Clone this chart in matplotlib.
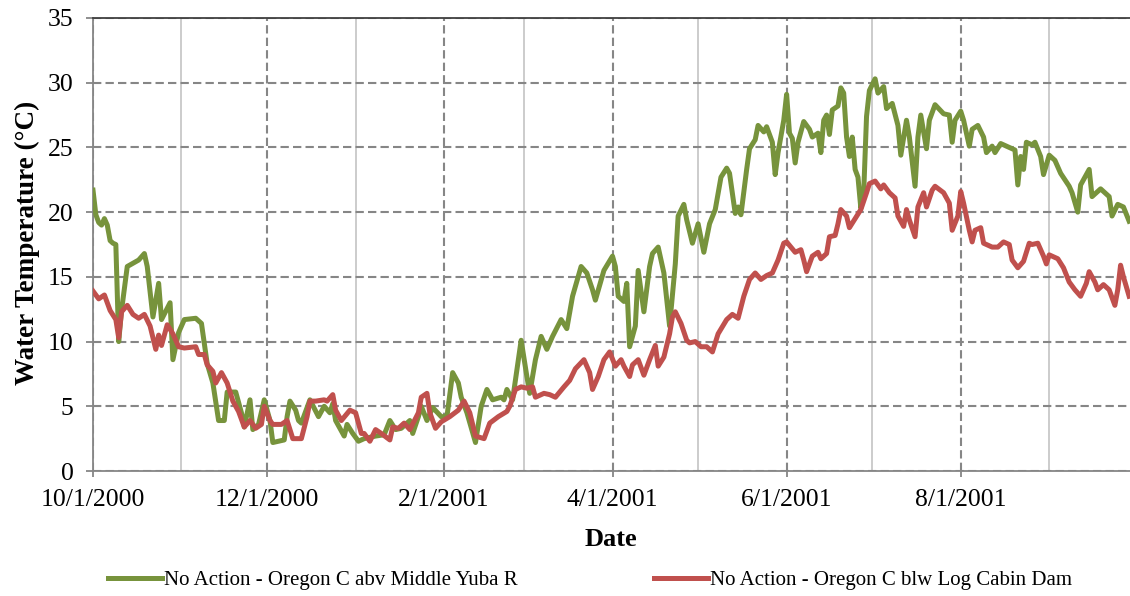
import numpy as np
import matplotlib
matplotlib.use("Agg")
import matplotlib.pyplot as plt
import matplotlib.dates as mdates
from matplotlib.ticker import FuncFormatter

plt.rcParams['font.family'] = ['Liberation Serif', 'DejaVu Serif']

# Days since 10/1/2000 and daily water temperature (deg C).
start = np.datetime64('2000-10-01')

abv_days = [0, 1, 2, 3, 4, 5, 6, 7, 8, 9, 10, 12, 16, 18, 19, 21, 23, 24, 27, 28,
            30, 32, 36, 38, 40, 42, 44, 46, 47, 50, 52, 53, 55, 56, 58, 60, 62, 63, 67, 68,
            69, 71, 72, 73, 76, 79, 81, 83, 84, 85, 88, 89, 91, 93, 95, 99, 102, 104, 106, 108,
            111, 112, 114, 115, 117, 119, 122, 124, 126, 128, 129, 131, 134, 136, 138, 140, 143, 144, 145, 147,
            150, 152, 153, 155, 157, 159, 161, 164, 166, 168, 171, 173, 175, 176, 179, 182, 183, 184, 186, 187,
            188, 190, 191, 193, 195, 196, 198, 200, 202, 204, 205, 207, 208, 210, 212, 214, 216, 218, 220, 222,
            223, 225, 226, 227, 229, 230, 232, 233, 235, 236, 238, 239, 240, 242, 243, 244, 245, 246, 247, 249,
            251, 252, 254, 255, 256, 257, 258, 259, 261, 262, 263, 264, 265, 266, 267, 268, 269, 270, 271, 272,
            274, 275, 277, 278, 280, 282, 283, 285, 286, 288, 289, 290, 292, 293, 295, 298, 300, 301, 302, 304,
            305, 307, 308, 310, 312, 313, 315, 316, 318, 320, 323, 324, 325, 326, 327, 329, 330, 332, 333, 335,
            337, 339, 342, 343, 345, 346, 349, 350, 353, 356, 357, 359, 361, 363]
abv_temp = [21.7, 19.8, 19.2, 19.0, 19.5, 19.0, 17.8, 17.6, 17.5, 10.0, 12.4, 15.8, 16.3, 16.8, 15.8, 11.9, 14.5, 11.7, 13.0, 8.6,
            10.7, 11.7, 11.8, 11.4, 8.3, 6.8, 3.9, 3.9, 6.1, 6.1, 4.5, 3.4, 5.5, 3.2, 3.6, 5.5, 3.9, 2.2, 2.4, 4.2,
            5.4, 4.7, 3.9, 3.7, 5.5, 4.2, 5.0, 4.5, 5.2, 3.9, 2.7, 3.6, 2.9, 2.3, 2.5, 2.7, 2.8, 3.9, 3.2, 3.3,
            3.9, 2.9, 4.2, 5.0, 3.9, 4.9, 4.2, 4.2, 7.6, 6.8, 5.7, 4.5, 2.2, 5.0, 6.3, 5.5, 5.7, 5.5, 6.3, 5.5,
            10.1, 7.3, 6.0, 8.6, 10.4, 9.4, 10.4, 11.7, 11.0, 13.5, 15.8, 15.3, 14.0, 13.2, 15.5, 16.6, 15.8, 13.5, 13.1, 14.5,
            9.6, 11.2, 15.5, 12.3, 15.8, 16.8, 17.3, 15.3, 11.2, 16.0, 19.7, 20.6, 19.4, 17.6, 19.1, 16.9, 19.1, 20.2, 22.7, 23.4,
            23.0, 19.9, 20.4, 19.8, 23.3, 24.9, 25.6, 26.7, 26.2, 26.6, 25.4, 22.9, 24.6, 27.1, 29.1, 26.1, 25.7, 23.8, 25.4, 27.0,
            26.4, 25.8, 26.1, 24.6, 27.1, 27.5, 26.0, 27.9, 28.2, 29.6, 29.2, 25.8, 24.3, 25.8, 23.3, 22.7, 20.3, 21.5, 27.4, 29.4,
            30.3, 29.2, 29.7, 28.0, 28.4, 26.7, 24.4, 27.1, 25.8, 22.0, 25.8, 27.5, 24.9, 27.1, 28.3, 27.6, 27.5, 25.4, 27.1, 27.8,
            27.1, 25.1, 26.4, 26.7, 25.8, 24.6, 25.1, 24.6, 25.3, 25.1, 24.8, 22.1, 24.3, 23.3, 25.4, 25.2, 25.4, 24.3, 22.9, 24.4,
            24.0, 23.0, 22.0, 21.5, 20.0, 22.1, 23.3, 21.2, 21.8, 21.2, 19.7, 20.6, 20.4, 19.3]

blw_days = [0, 2, 4, 6, 8, 9, 10, 12, 14, 16, 18, 20, 22, 23, 24, 26, 28, 30, 32, 36,
            37, 39, 40, 42, 43, 45, 47, 49, 51, 53, 55, 57, 59, 60, 62, 63, 66, 68, 70, 73,
            75, 76, 78, 81, 82, 84, 85, 87, 90, 92, 94, 95, 97, 99, 101, 104, 105, 107, 109, 111,
            114, 115, 117, 118, 120, 122, 125, 128, 130, 132, 134, 137, 139, 142, 145, 146, 148, 150, 152, 154,
            155, 158, 160, 162, 165, 167, 169, 172, 174, 175, 177, 179, 181, 183, 185, 186, 188, 189, 191, 193,
            195, 197, 198, 200, 202, 203, 204, 206, 208, 209, 211, 213, 215, 217, 219, 222, 224, 226, 228, 230,
            232, 234, 236, 238, 240, 242, 243, 246, 248, 249, 250, 252, 254, 255, 257, 258, 260, 261, 262, 264,
            265, 267, 269, 271, 272, 274, 276, 277, 279, 281, 282, 284, 285, 286, 288, 289, 291, 292, 294, 295,
            298, 300, 301, 303, 304, 305, 307, 308, 309, 311, 312, 315, 317, 319, 321, 322, 324, 326, 328, 329,
            331, 333, 334, 335, 338, 340, 342, 344, 346, 348, 349, 351, 352, 354, 356, 358, 359, 360, 361, 363]
blw_temp = [13.9, 13.3, 13.6, 12.4, 11.7, 10.3, 12.3, 12.8, 12.1, 11.8, 12.1, 11.2, 9.4, 10.5, 9.7, 11.3, 10.6, 9.6, 9.5, 9.6,
            9.0, 9.0, 8.2, 7.7, 6.8, 7.6, 6.8, 5.4, 4.6, 3.4, 3.9, 3.3, 3.6, 5.0, 3.9, 3.6, 3.6, 3.9, 2.5, 2.5,
            4.2, 5.4, 5.4, 5.5, 5.4, 5.9, 4.7, 3.9, 4.7, 4.5, 2.9, 2.9, 2.3, 3.2, 2.9, 2.4, 3.4, 3.3, 3.7, 3.2,
            4.5, 5.7, 6.0, 4.5, 3.3, 3.8, 4.2, 4.7, 5.4, 4.5, 2.7, 2.5, 3.7, 4.2, 4.6, 5.0, 6.3, 6.5, 6.4, 6.5,
            5.7, 6.0, 5.9, 5.7, 6.5, 7.0, 7.9, 8.6, 7.6, 6.3, 7.3, 8.6, 9.2, 8.1, 8.6, 8.1, 7.3, 8.2, 8.6, 7.4,
            8.6, 9.7, 8.1, 8.8, 10.6, 11.9, 12.3, 11.4, 10.1, 9.9, 10.0, 9.6, 9.6, 9.2, 10.6, 11.7, 12.1, 11.8, 13.5, 14.8,
            15.3, 14.8, 15.1, 15.3, 16.3, 17.6, 17.7, 16.9, 17.1, 16.3, 15.4, 16.6, 16.9, 16.4, 16.8, 18.1, 18.2, 19.1, 20.2, 19.7,
            18.8, 19.5, 20.2, 21.5, 22.2, 22.4, 21.8, 22.1, 21.5, 21.1, 19.7, 18.9, 20.2, 19.4, 18.1, 20.4, 21.5, 20.4, 21.7, 22.0,
            21.5, 20.7, 18.6, 19.7, 21.6, 20.7, 18.6, 17.7, 18.6, 18.8, 17.6, 17.3, 17.3, 17.7, 17.5, 16.3, 15.7, 16.2, 17.6, 17.5,
            17.6, 16.6, 16.0, 16.7, 16.4, 15.7, 14.6, 14.0, 13.5, 14.5, 15.4, 14.6, 14.0, 14.4, 14.0, 12.8, 14.0, 15.9, 15.0, 13.5]

abv_label = 'No Action - Oregon C abv Middle Yuba R'
blw_label = 'No Action - Oregon C blw Log Cabin Dam'

abv_dates = start + np.array(abv_days, dtype='timedelta64[D]')
blw_dates = start + np.array(blw_days, dtype='timedelta64[D]')

fig = plt.figure(figsize=(11.3, 5.96), dpi=100)
# plot area runs a little past the right edge of the picture, as in the source
ax = fig.add_axes([93 / 1130, 125 / 596, 1039 / 1130, 453 / 596])

ax.plot(abv_dates, abv_temp, color='#77933C', lw=3.6, label=abv_label,
        solid_joinstyle='round', zorder=3)
ax.plot(blw_dates, blw_temp, color='#C0504D', lw=3.6, label=blw_label,
        solid_joinstyle='round', zorder=3)

# Axes limits and ticks
ax.set_xlim(start, np.datetime64('2001-09-30'))
ax.set_ylim(0, 35)
ax.set_yticks(np.arange(0, 36, 5))
ax.xaxis.set_major_locator(mdates.MonthLocator(bymonth=[10, 12, 2, 4, 6, 8]))
ax.xaxis.set_minor_locator(mdates.MonthLocator(bymonth=[11, 1, 3, 5, 7, 9]))


def fmt_date(x, pos):
    d = mdates.num2date(x)
    return f'{d.month}/{d.day}/{d.year}'


ax.xaxis.set_major_formatter(FuncFormatter(fmt_date))
ax.tick_params(axis='both', labelsize=18.5, colors='#868686', labelcolor='black')
ax.tick_params(axis='x', which='major', length=4, width=1.3, pad=9)
ax.tick_params(axis='x', which='minor', length=0)
ax.tick_params(axis='y', length=5, width=1.3, pad=9)

# Grid
ax.grid(True, which='major', axis='both', color='#868686', lw=1.5, ls=(0, (4, 2)), zorder=1)
ax.grid(True, which='minor', axis='x', color='#BFBFBF', lw=1.1, ls='-', zorder=1)
ax.set_axisbelow(True)

for s in ['left', 'bottom']:
    ax.spines[s].set_color('#868686')
    ax.spines[s].set_linewidth(1.3)
ax.spines['top'].set_color('#404040')
ax.spines['top'].set_linewidth(1.3)
ax.spines['right'].set_visible(False)

# Labels
fig.text(27 / 1130, (596 - 243) / 596, 'Water Temperature (°C)', rotation=90,
         ha='center', va='center', fontsize=19.5, fontweight='bold')
fig.text(611 / 1130, (596 - 540) / 596, 'Date', ha='center', va='center',
         fontsize=19, fontweight='bold')

fig.legend(loc='center', bbox_to_anchor=(590 / 1130, 16 / 596), ncol=2, frameon=False,
           fontsize=15, handlelength=2.6, handletextpad=0.1, columnspacing=6.5)

fig.savefig('out.png', dpi=100)
